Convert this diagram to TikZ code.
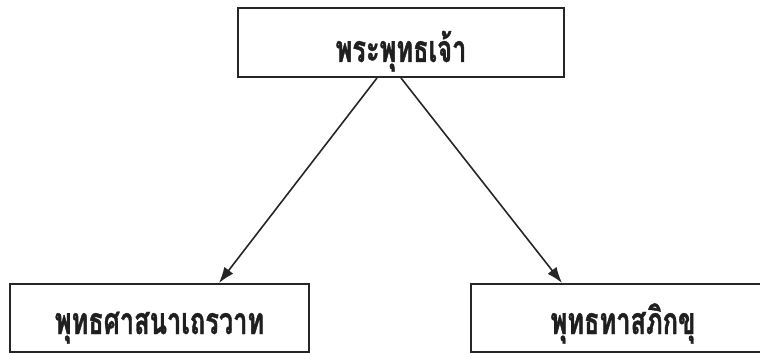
\documentclass[tikz,border=0pt]{standalone}
\usepackage{fontspec}
\newfontfamily\thaifont[Script=Thai,FakeStretch=0.68,BoldFeatures={FakeBold=1}]{Loma}
\usetikzlibrary{arrows.meta}
\begin{document}
\begin{tikzpicture}[x=0.75pt,y=-0.75pt,
  box/.style={draw=black!85,line width=1.5pt,rectangle,inner sep=0pt},
  lbl/.style={font=\thaifont\bfseries\fontsize{28}{32}\selectfont,text=black!88,inner sep=0pt,anchor=base},
  conn/.style={draw=black!85,line width=1.2pt,-{Latex[length=12pt,width=8.5pt]}}]
\useasboundingbox (0,0) rectangle (760,353);
\node[box,minimum width=244.5pt,minimum height=51.75pt] (top) at (401,42.5) {};
\node[box,minimum width=224.25pt,minimum height=51pt] (left) at (159.5,318) {};
\node[box,minimum width=228pt,minimum height=51pt] (right) at (623,318) {};
\node[lbl] (ttop) at (401,62) {พระพุทธเจ้า};
\node[lbl] (tleft) at (159.5,334) {พุทธศาสนาเถรวาท};
\node[lbl] (tright) at (623,334) {พุทธทาสภิกขุ};
\draw[conn] ([xshift=-18pt]top.south) -- ([xshift=44.6pt]left.north);
\draw[conn] (top.south) -- ([xshift=-45.75pt]right.north);
\end{tikzpicture}
\end{document}
